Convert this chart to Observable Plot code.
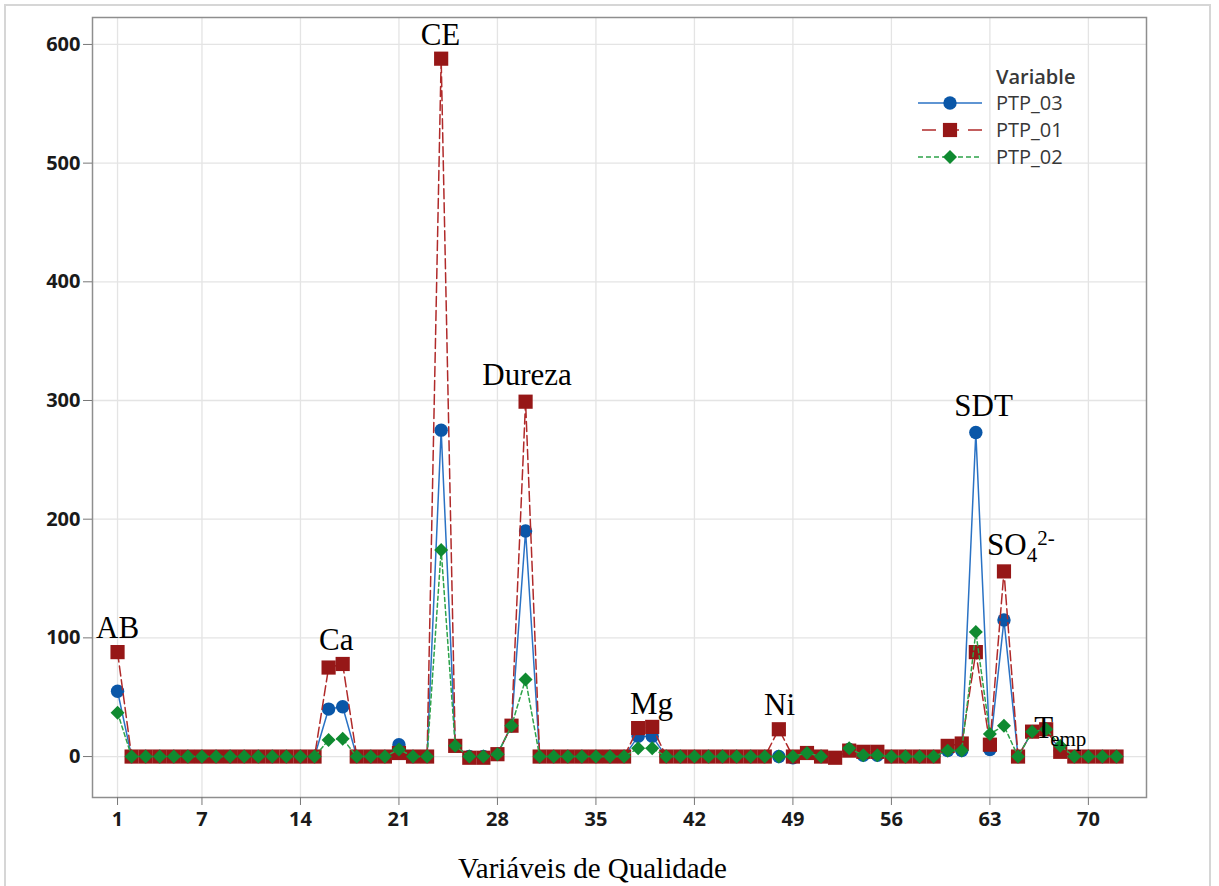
<!DOCTYPE html>
<html>
<head>
<meta charset="utf-8">
<script src="https://cdn.jsdelivr.net/npm/d3@7"></script>
<script src="https://cdn.jsdelivr.net/npm/@observablehq/plot@0.6"></script>
<style>
  html, body { margin: 0; padding: 0; background: #fff; }
  #wrap { position: relative; width: 1219px; height: 886px; overflow: hidden; }
  #border { position: absolute; left: 4px; top: 4px; width: 1207px; height: 920px; border: 2px solid #d6d6d6; box-sizing: border-box; }
  #chart { position: absolute; left: 0; top: 0; }
  #chart g[aria-label="y-axis tick label"], #chart g[aria-label="x-axis tick label"] {
    font-family: "Open Sans", sans-serif; font-size: 20px; font-weight: 700;
  }
</style>
</head>
<body>
<div id="wrap"><div id="border"></div><div id="chart"></div></div>
<script>
// ---- data ----
const seriesNames = ["PTP_03", "PTP_01", "PTP_02"];
const ptp03 = [55,0,0,0,0,0,0,0,0,0,0,0,0,0,0,40,42,0,0,0,10,0,0,275,9,0,0,2,26,190,0,0,0,0,0,0,0,17,17,0,0,0,0,0,0,0,0,0,-1,3,0,null,6,1,1,0,0,0,0,5,5,273,6,115,0,21,23,5,0,0,0,0];
const ptp01 = [88,0,0,0,0,0,0,0,0,0,0,0,0,0,0,75,78,0,0,0,3,0,0,588,9,-1,-1,2,26,299,0,0,0,0,0,0,0,24,25,0,0,0,0,0,0,0,0,23,0,3,0,-1,5,4,4,0,0,0,0,9,11,88,10,156,0,21,23,4,0,0,0,0];
const ptp02 = [37,0,0,0,0,0,0,0,0,0,0,0,0,0,0,14,15,0,0,0,6,0,0,174,9,0,0,2,26,65,0,0,0,0,0,0,0,7,7,0,0,0,0,0,0,0,0,0,0,3,0,null,7,1,1,0,0,0,0,5,5,105,19,26,0,21,23,9,0,0,0,0];
const xTicks = [1,7,14,21,28,35,42,49,56,63,70];
const yTicks = [0,100,200,300,400,500,600];
const annotLabels = ["AB","Ca","CE","Dureza","Mg","Ni","SDT","SO42-","Temp"];
const annotX = [1, 16.55, 23.95, 30.1, 38.95, 48.05, 62.55, 65.2, 68.0];
const annotY = [108, 98, 607.5, 321, 44, 43, 295, 178, 24];
const xTitle = "Variáveis de Qualidade";
const legendTitle = "Variable";

// ---- build tidy tables ----
const idx = d3.range(1, ptp03.length + 1);
const toRows = arr => idx.map((x, i) => ({x, v: arr[i]}));
const r03 = toRows(ptp03), r01 = toRows(ptp01), r02 = toRows(ptp02);
const annots = annotLabels.map((t, i) => ({t, x: annotX[i], y: annotY[i]}));

const C = {
  blueLine: "#2a72c4", blue: "#0a57a8",
  redLine: "#b02a2a", red: "#961717",
  greenLine: "#2ea34a", green: "#0f8a30"
};

const chart = Plot.plot({
  width: 1219,
  height: 886,
  marginLeft: 92,
  marginRight: 73,
  marginTop: 17,
  marginBottom: 89,
  x: {domain: [-0.78, 74.13]},
  y: {domain: [-34.5, 622.7]},
  style: {background: "transparent"},
  marks: [
    Plot.gridX(xTicks, {stroke: "#e4e4e4", strokeOpacity: 1, strokeWidth: 1.3}),
    Plot.gridY(yTicks, {stroke: "#e4e4e4", strokeOpacity: 1, strokeWidth: 1.3}),
    Plot.frame({stroke: "#8e8e8e", strokeWidth: 1.5}),
    Plot.axisY({ticks: yTicks, tickSize: 9, tickPadding: 3, label: null, stroke: "#777", fill: "#1a1a1a"}),
    Plot.axisX({ticks: xTicks, tickSize: 8, tickPadding: 6, label: null, stroke: "#777", fill: "#1a1a1a"}),
    // PTP_03
    Plot.line(r03, {x: "x", y: "v", stroke: C.blueLine, strokeWidth: 1.5}),
    Plot.dot(r03, {x: "x", y: "v", symbol: "circle", r: 6.7, fill: C.blue, stroke: "none"}),
    // PTP_01
    Plot.line(r01, {x: "x", y: "v", stroke: C.redLine, strokeWidth: 1.5, strokeDasharray: "10,4"}),
    Plot.dot(r01, {x: "x", y: "v", symbol: "square", r: 8, fill: C.red, stroke: "none"}),
    // PTP_02
    Plot.line(r02, {x: "x", y: "v", stroke: C.greenLine, strokeWidth: 1.5, strokeDasharray: "4,3"}),
    Plot.dot(r02, {x: "x", y: "v", symbol: "diamond2", r: 6.3, fill: C.green, stroke: "none"}),
    // annotations
    Plot.text(annots, {x: "x", y: "y", text: "t", fontFamily: "Liberation Serif", fontSize: 31, fill: "#000"}),
    // x title
    Plot.text([xTitle], {frameAnchor: "bottom", lineAnchor: "middle", dy: 71, dx: -27,
      fontFamily: "Liberation Serif", fontSize: 29, fill: "#000"})
  ]
});
document.getElementById("chart").appendChild(chart);

// sub/superscripts in annotations
d3.select(chart).selectAll("text").each(function() {
  const t = this.textContent;
  if (t === "SO42-") {
    const s = d3.select(this); s.text(null);
    s.append("tspan").text("SO");
    s.append("tspan").attr("font-size", 21).attr("dy", 7).text("4");
    s.append("tspan").attr("font-size", 21).attr("dy", -17).text("2-");
  } else if (t === "Temp") {
    const s = d3.select(this); s.text(null);
    s.append("tspan").text("T");
    s.append("tspan").attr("font-size", 21).attr("dy", 8).attr("dx", -3).text("emp");
  }
});

// legend
const svg = d3.select(chart);
const lg = svg.append("g").attr("font-family", "Open Sans").attr("font-size", 20)
  .attr("fill", "#383838").attr("text-anchor", "start");
lg.append("text").attr("x", 996).attr("y", 77).attr("dy", "0.35em").attr("font-weight", 600).text(legendTitle);
const legendSpec = [
  {name: seriesNames[0], y: 103, line: C.blueLine, fill: C.blue, dash: null, sym: d3.symbolCircle, size: Math.PI * 6.7 * 6.7},
  {name: seriesNames[1], y: 130, line: C.redLine, fill: C.red, dash: "14,9", sym: d3.symbolSquare, size: Math.PI * 8 * 8},
  {name: seriesNames[2], y: 157, line: C.greenLine, fill: C.green, dash: "5,3", sym: d3.symbolDiamond2, size: Math.PI * 6.3 * 6.3}
];
legendSpec.forEach(d => {
  const ln = lg.append("line").attr("x1", 918).attr("x2", 982).attr("y1", d.y).attr("y2", d.y)
    .attr("stroke", d.line).attr("stroke-width", 1.5);
  if (d.dash) ln.attr("stroke-dasharray", d.dash).attr("stroke-dashoffset", d.name === "PTP_01" ? -4 : 0);
  lg.append("path").attr("transform", `translate(950,${d.y})`).attr("d", d3.symbol(d.sym, d.size)()).attr("fill", d.fill);
  lg.append("text").attr("x", 996).attr("y", d.y).attr("dy", "0.35em").text(d.name);
});
</script>
</body>
</html>
